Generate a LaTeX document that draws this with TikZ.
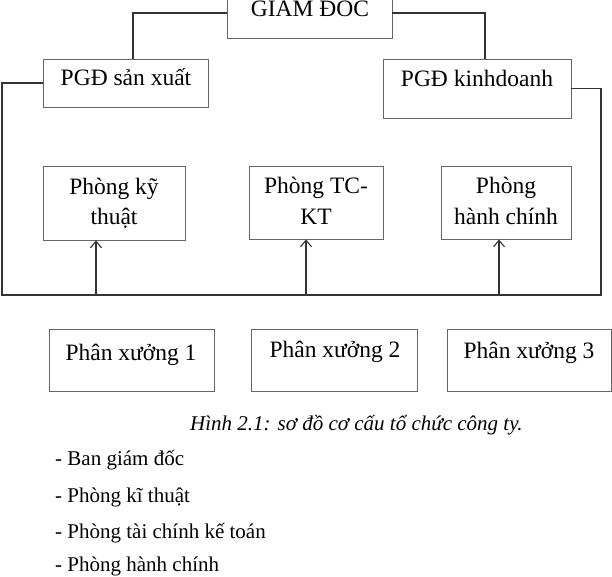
\documentclass[tikz,border=0pt]{standalone}
\usepackage{fontspec}
\setmainfont{Liberation Serif}
\usetikzlibrary{arrows.meta}
\begin{document}
\begin{tikzpicture}[x=1pt,y=-1pt,
  box/.style={draw=black!60, line width=0.9pt, inner sep=0pt, minimum width=#1},
  lbl/.style={anchor=base, inner sep=0pt, font=\fontsize{23.5}{30}\selectfont},
  item/.style={anchor=base west, inner sep=0pt, font=\fontsize{21}{25}\selectfont},
  conn/.style={draw=black!80, line width=1.1pt},
  arr/.style={conn, -{Straight Barb[length=6.5pt,width=11pt,line width=1.1pt]}}]
\useasboundingbox (0,0) rectangle (612,577);
% boxes
\node[box=165pt, minimum height=50pt] (gd) at (309.5,13) {};
\node[box=165pt, minimum height=48pt] (psx) at (125.5,83) {};
\node[box=188pt, minimum height=59pt] (pkd) at (477,88.5) {};
\node[box=142pt, minimum height=74pt] (pkt) at (114,203) {};
\node[box=134pt, minimum height=73pt] (ptc) at (316,202.5) {};
\node[box=130pt, minimum height=73pt] (phc) at (506,202.5) {};
\node[box=165pt, minimum height=62pt] (px1) at (131.5,360) {};
\node[box=166pt, minimum height=62pt] (px2) at (334,360) {};
\node[box=164pt, minimum height=62pt] (px3) at (529,360) {};
% box texts
\node[lbl] (tgd) at (310,17) {GIÁM ĐỐC};
\node[lbl] (tpsx) at (126,86) {PGĐ sản xuất};
\node[lbl] (tpkd) at (477,87) {PGĐ kinhdoanh};
\node[lbl] (tpkt1) at (114,195) {Phòng kỹ};
\node[lbl] (tpkt2) at (114,225) {thuật};
\node[lbl] (tptc1) at (316,194) {Phòng TC-};
\node[lbl] (tptc2) at (316,225) {KT};
\node[lbl] (tphc1) at (506,194) {Phòng};
\node[lbl] (tphc2) at (506,225) {hành chính};
\node[lbl] (tpx1) at (131,360) {Phân xưởng 1};
\node[lbl] (tpx2) at (335,357) {Phân xưởng 2};
\node[lbl] (tpx3) at (529,358) {Phân xưởng 3};
% connectors
\coordinate (busL) at (2,295);
\coordinate (busR) at (601,295);
\coordinate (xl) at (133,0);
\coordinate (xr) at (485,0);
\draw[conn] (gd.west) -| (xl |- psx.north);
\draw[conn] (gd.east) -| (xr |- pkd.north);
\draw[conn] (psx.west) -| (busL) -- (busR) |- (pkd.east);
\coordinate (a1) at (96,295);
\coordinate (a2) at (306,295);
\coordinate (a3) at (499,295);
\draw[arr] (a1) -- (a1 |- pkt.south);
\draw[arr] (a2) -- (a2 |- ptc.south);
\draw[arr] (a3) -- (a3 |- phc.south);
% caption and list
\node[item, font=\fontsize{21}{25}\selectfont\itshape] (cap) at (190,430) {Hình 2.1: sơ đồ cơ cấu tổ chức công ty.};
\node[item] (l1) at (55,465) {- Ban giám đốc};
\node[item] (l2) at (55,502) {- Phòng kĩ thuật};
\node[item] (l3) at (55,538) {- Phòng tài chính kế toán};
\node[item] (l4) at (55,571.5) {- Phòng hành chính};
\end{tikzpicture}
\end{document}
